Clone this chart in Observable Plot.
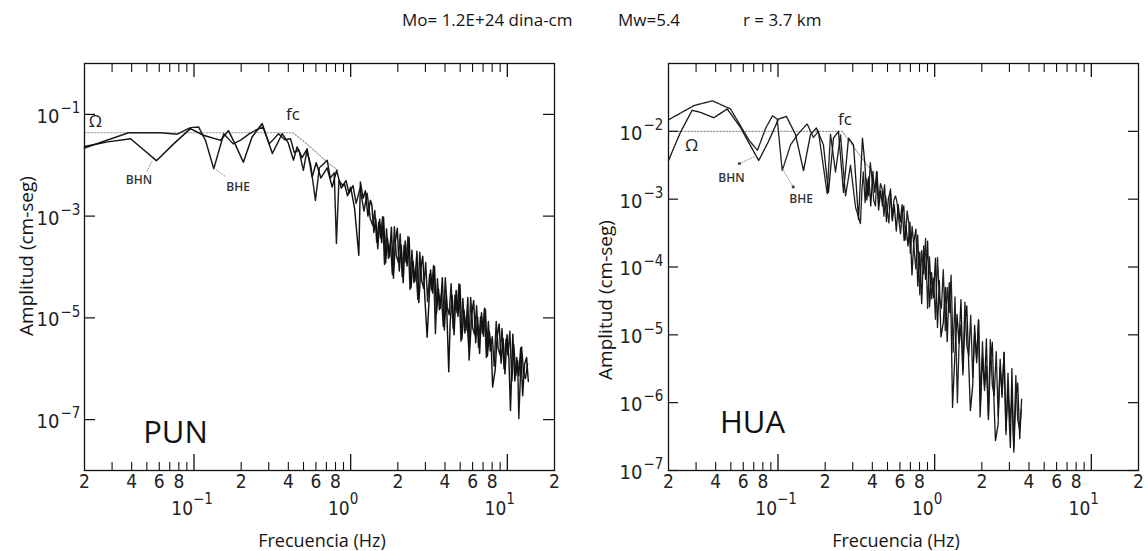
<!DOCTYPE html>
<html><head><meta charset="utf-8">
<script src="https://cdn.jsdelivr.net/npm/d3@7"></script>
<script src="https://cdn.jsdelivr.net/npm/@observablehq/plot@0.6"></script>
<style>
html,body{margin:0;padding:0;background:#fff;}
#wrap{position:relative;width:1148px;height:551px;overflow:hidden;font-family:"Open Sans",sans-serif;color:#151515;}
.lbl{position:absolute;white-space:nowrap;transform:translate(-50%,-50%);}
.rot{transform:translate(-50%,-50%) rotate(-90deg);}
.ttl{position:absolute;white-space:nowrap;transform:translateY(-50%);}
.panel{position:absolute;top:0;}
</style></head><body><div id="wrap"></div>
<script>
// ---------- DATA (pairs: log10 frequency [Hz], log10 amplitude [cm-s]) ----------
const punBHN = [
[-1.699,-1.63],[-1.55,-1.54],[-1.405,-1.48],[-1.32,-1.70],[-1.24,-1.91],[-1.13,-1.58],[-1.023,-1.28],[-0.94,-1.41],[-0.83,-1.51],[-0.78,-1.32],[-0.735,-1.60],[-0.685,-1.94],[-0.63,-1.45],[-0.565,-1.18],[-0.50,-1.77],[-0.437,-1.38],[-0.40,-1.55],[-0.365,-1.90],[-0.342,-1.64],[-0.31,-1.85],[-0.278,-1.68],[-0.246,-2.23],[-0.22,-1.95],[-0.19,-2.25],[-0.15,-2.05],[-0.118,-2.43],[-0.09,-2.10],[-0.06,-2.45],[-0.04,-2.36],[-0.02,-2.60],[0.0,-2.43],[0.025,-2.85],[0.052,-3.77],[0.062,-2.33],[0.08,-2.65],[0.094,-2.50],[0.11,-3.0],[0.126,-2.69],
[0.135,-2.77],[0.148,-3.32],[0.160,-3.05],[0.173,-3.64],[0.185,-3.06],[0.198,-3.52],[0.210,-3.02],[0.223,-3.92],[0.235,-3.44],[0.248,-3.80],[0.260,-3.22],[0.273,-4.22],[0.285,-3.51],[0.298,-3.24],[0.310,-4.08],[0.323,-3.57],[0.335,-4.31],[0.348,-3.49],[0.360,-3.98],[0.373,-3.42],[0.385,-4.41],[0.398,-3.89],[0.410,-4.28],[0.423,-3.69],[0.435,-4.70],[0.448,-4.02],[0.460,-3.79],[0.473,-4.58],[0.488,-5.38],[0.498,-4.79],[0.510,-4.06],[0.523,-4.51],[0.535,-3.99],[0.548,-4.91],[0.560,-4.43],[0.573,-4.81],[0.585,-4.21],[0.598,-5.24],[0.610,-4.52],[0.626,-6.06],[0.635,-5.10],[0.648,-4.56],[0.660,-5.33],[0.673,-4.46],[0.685,-4.97],[0.698,-4.35],[0.710,-5.42],[0.723,-4.85],[0.735,-5.25],[0.748,-4.60],[0.756,-5.83],[0.773,-4.93],[0.785,-4.66],[0.798,-5.49],[0.810,-4.98],[0.823,-5.70],[0.835,-4.90],[0.848,-5.36],[0.860,-4.83],[0.873,-5.75],[0.885,-5.27],[0.898,-5.62],[0.906,-6.36],[0.923,-6.01],[0.935,-5.36],[0.948,-5.12],[0.960,-5.89],[0.973,-5.41],[0.985,-6.10],[0.998,-5.33],[1.010,-5.80],[1.020,-6.82],[1.035,-5.32],[1.048,-6.24],[1.060,-5.78],[1.073,-6.14],[1.085,-5.59],[1.098,-6.53],[1.110,-5.91],[1.123,-5.78],[1.134,-6.25]
];
const punBHE = [
[-1.699,-1.66],[-1.418,-1.36],[-1.214,-1.36],[-1.107,-1.39],[-1.023,-1.26],[-0.97,-1.25],[-0.927,-1.51],[-0.874,-2.07],[-0.81,-1.38],[-0.75,-1.58],[-0.70,-1.50],[-0.645,-1.38],[-0.60,-1.30],[-0.56,-1.25],[-0.52,-1.58],[-0.46,-1.38],[-0.42,-1.50],[-0.384,-1.48],[-0.36,-1.75],[-0.33,-1.70],[-0.302,-2.10],[-0.28,-1.72],[-0.255,-2.00],[-0.225,-2.69],[-0.20,-2.05],[-0.175,-1.98],[-0.15,-1.90],[-0.13,-2.25],[-0.105,-2.15],[-0.091,-3.54],[-0.075,-2.30],[-0.05,-2.40],[-0.03,-2.30],[-0.01,-2.55],[0.015,-2.40],[0.035,-2.75],[0.06,-2.45],[0.085,-2.90],[0.105,-2.55],[0.125,-3.05],
[0.141,-3.18],[0.154,-2.89],[0.166,-3.51],[0.179,-3.12],[0.191,-3.43],[0.204,-3.01],[0.216,-3.95],[0.229,-3.25],[0.241,-3.83],[0.254,-3.53],[0.266,-4.15],[0.279,-3.21],[0.291,-3.77],[0.304,-3.91],[0.316,-3.35],[0.329,-4.19],[0.341,-3.57],[0.354,-3.91],[0.366,-3.40],[0.379,-4.44],[0.391,-3.67],[0.404,-4.31],[0.416,-4.01],[0.429,-4.64],[0.441,-3.71],[0.454,-4.28],[0.466,-4.42],[0.479,-3.91],[0.491,-4.68],[0.504,-4.14],[0.516,-4.45],[0.529,-3.97],[0.541,-5.31],[0.554,-4.23],[0.566,-4.84],[0.579,-4.54],[0.591,-5.17],[0.604,-4.21],[0.616,-4.79],[0.629,-4.94],[0.641,-4.33],[0.654,-5.21],[0.666,-4.55],[0.679,-4.90],[0.691,-4.33],[0.704,-5.46],[0.716,-4.62],[0.729,-5.30],[0.741,-4.95],[0.754,-5.61],[0.766,-4.60],[0.779,-5.20],[0.791,-5.33],[0.804,-4.76],[0.816,-5.58],[0.829,-4.98],[0.841,-5.30],[0.854,-4.81],[0.866,-5.78],[0.879,-5.07],[0.891,-5.65],[0.904,-5.37],[0.916,-5.95],[0.929,-5.07],[0.941,-5.60],[0.954,-5.73],[0.966,-5.21],[0.979,-6.00],[0.991,-5.42],[1.004,-5.73],[1.016,-5.26],[1.029,-6.24],[1.041,-5.53],[1.054,-6.13],[1.066,-5.84],[1.073,-6.98],[1.091,-5.57],[1.104,-6.09],[1.116,-6.19],[1.129,-5.90]
];
const punModel = [[-1.699,-1.36],[-0.37,-1.36],[-0.28,-1.58],[-0.142,-1.96],[-0.08,-2.10]];

const huaBHN = [
[-1.699,-2.43],[-1.622,-2.01],[-1.548,-1.69],[-1.495,-1.72],[-1.410,-1.80],[-1.324,-1.67],[-1.240,-1.94],[-1.176,-2.21],[-1.123,-2.43],[-1.061,-2.15],[-0.997,-1.82],[-0.946,-1.78],[-0.888,-2.05],[-0.837,-2.58],[-0.793,-2.05],[-0.755,-1.95],[-0.710,-2.20],[-0.678,-2.90],[-0.646,-2.10],[-0.614,-2.00],[-0.582,-2.90],[-0.550,-2.10],[-0.518,-2.20],[-0.486,-3.30],[-0.461,-2.10],
[-0.445,-2.49],[-0.433,-3.01],[-0.420,-2.67],[-0.408,-3.10],[-0.395,-2.60],[-0.383,-2.90],[-0.370,-2.59],[-0.358,-3.16],[-0.345,-2.88],[-0.333,-3.10],[-0.320,-2.79],[-0.308,-3.33],[-0.295,-2.99],[-0.283,-2.88],[-0.270,-3.32],[-0.258,-3.08],[-0.245,-3.47],[-0.233,-3.08],[-0.220,-3.34],[-0.208,-3.08],[-0.195,-3.61],[-0.183,-3.40],[-0.170,-3.69],[-0.158,-3.34],[-0.145,-4.12],[-0.133,-3.64],[-0.120,-3.44],[-0.108,-4.28],[-0.095,-3.78],[-0.083,-4.54],[-0.070,-3.69],[-0.058,-4.18],[-0.045,-3.62],[-0.033,-4.59],[-0.020,-4.08],[-0.008,-4.45],[0.005,-3.87],[0.018,-4.89],[0.030,-4.20],[0.040,-5.03],[0.055,-4.82],[0.068,-4.30],[0.080,-5.10],[0.093,-4.23],[0.105,-4.78],[0.114,-6.07],[0.130,-5.25],[0.143,-4.70],[0.155,-5.12],[0.168,-4.48],[0.180,-5.59],[0.193,-4.84],[0.205,-4.57],[0.218,-5.47],[0.228,-6.12],[0.243,-5.74],[0.255,-4.86],[0.268,-5.41],[0.280,-4.78],[0.290,-6.21],[0.305,-5.33],[0.318,-5.76],[0.330,-5.06],[0.343,-6.25],[0.355,-5.42],[0.368,-5.11],[0.380,-6.07],[0.388,-6.56],[0.405,-6.32],[0.418,-5.36],[0.430,-5.92],[0.443,-5.26],[0.455,-6.41],[0.468,-5.79],[0.483,-6.66],[0.493,-5.50],[0.505,-6.73],[0.518,-5.93],[0.530,-5.71],[0.543,-6.53],[0.555,-5.95]
];
const huaBHE = [
[-1.699,-1.83],[-1.536,-1.62],[-1.419,-1.55],[-1.303,-1.67],[-1.185,-2.13],[-1.131,-2.28],[-1.080,-1.96],[-1.035,-1.77],[-1.005,-1.82],[-0.973,-2.58],[-0.920,-2.20],[-0.876,-2.05],[-0.814,-1.89],[-0.774,-2.09],[-0.742,-2.00],[-0.686,-2.92],[-0.665,-2.04],[-0.633,-2.60],[-0.601,-2.05],[-0.569,-2.95],[-0.537,-2.50],[-0.505,-3.12],
[-0.474,-3.36],[-0.464,-2.85],[-0.455,-2.60],[-0.444,-3.05],[-0.433,-2.70],[-0.422,-2.95],[-0.411,-2.46],[-0.400,-2.70],[-0.389,-3.02],[-0.378,-3.10],[-0.368,-2.60],[-0.357,-3.05],[-0.346,-2.77],[-0.335,-2.85],[-0.324,-3.25],[-0.313,-2.95],[-0.303,-3.17],[-0.292,-3.35],[-0.282,-2.85],[-0.271,-3.30],[-0.261,-3.02],[-0.250,-2.95],[-0.240,-3.05],[-0.229,-3.30],[-0.218,-3.51],[-0.207,-3.20],[-0.197,-3.10],[-0.186,-3.60],[-0.176,-3.17],[-0.165,-3.35],[-0.155,-3.80],[-0.144,-3.40],[-0.134,-3.66],
[-0.120,-4.03],[-0.108,-3.53],[-0.095,-4.41],[-0.083,-3.76],[-0.070,-4.10],[-0.058,-3.58],[-0.045,-4.61],[-0.033,-3.85],[-0.020,-4.47],[-0.008,-4.16],[0.005,-4.77],[0.018,-3.86],[0.030,-4.45],[0.043,-4.61],[0.055,-4.04],[0.068,-4.94],[0.080,-4.30],[0.093,-4.67],[0.105,-4.12],[0.118,-5.26],[0.130,-4.44],[0.145,-6.00],[0.155,-5.18],[0.168,-4.85],[0.180,-5.53],[0.193,-4.52],[0.205,-5.15],[0.218,-5.31],[0.230,-4.71],[0.243,-5.63],[0.255,-4.97],[0.268,-5.35],[0.280,-4.78],[0.293,-5.97],[0.305,-5.10],[0.318,-5.82],[0.330,-5.46],[0.343,-6.19],[0.355,-5.07],[0.368,-5.74],[0.380,-5.90],[0.393,-5.25],[0.405,-6.20],[0.418,-5.48],[0.430,-5.87],[0.443,-5.26],[0.455,-6.47],[0.468,-5.56],[0.480,-6.30],[0.493,-5.92],[0.505,-6.67],[0.518,-5.60],[0.530,-6.25],[0.543,-6.40],[0.552,-6.10]
];
const huaModel = [[-1.699,-2.0],[-0.59,-2.0],[-0.431,-2.5],[-0.38,-2.62]];

// annotations: [text, log10 f, log10 A, size]
const punNotes = [["Ω",-1.629,-1.14,17],["fc",-0.368,-1.00,16],["BHN",-1.351,-2.30,12],["BHE",-0.719,-2.44,12]];
const huaNotes = [["Ω",-1.552,-2.21,17],["fc",-0.573,-1.826,16],["BHN",-1.297,-2.695,12],["BHE",-0.853,-3.005,12]];
const punStation = [["PUN",-1.118,-7.26]];
const huaStation = [["HUA",-1.163,-6.297]];
const punLeaders = [[-1.30,-2.12,-1.265,-1.90],[-0.80,-2.22,-0.862,-2.08]];
const huaLeaders = [[-1.246,-2.474,-1.131,-2.356],[-0.903,-2.82,-0.973,-2.55]];
const huaLeaderDots = [[-1.246,-2.474],[-0.903,-2.82]];

// axes
const xDomain = [0.02, 20];
const xMinorTicks = [0.03,0.04,0.05,0.06,0.07,0.08,0.09,0.2,0.3,0.4,0.5,0.6,0.7,0.8,0.9,2,3,4,5,6,7,8,9];
const xMajorTicks = [0.1,1,10];
const xDigitValues = [0.02,0.04,0.06,0.08,0.2,0.4,0.6,0.8,2,4,6,8,20];
const xDigitText = ["2","4","6","8","2","4","6","8","2","4","6","8","2"];
const xDecadeValues = [0.1,1,10];
const xDecadeExp = ["−1","0","1"];
const punYDomain = [1e-8, 1];
const punYTicks = [1e-1,1e-3,1e-5,1e-7];
const punYExp = ["−1","−3","−5","−7"];
const huaYDomain = [1e-7, 1e-1];
const huaYTicks = [1e-2,1e-3,1e-4,1e-5,1e-6,1e-7];
const huaYExp = ["−2","−3","−4","−5","−6","−7"];

const title = ["Mo= 1.2E+24 dina-cm","Mw=5.4","r = 3.7 km"];
const yLabel = "Amplitud (cm-seg)";
const xLabel = "Frecuencia (Hz)";

// ---------- DRAW ----------
const P = v => Math.pow(10, v);
const NARROW = "'Liberation Sans Narrow','DejaVu Sans Condensed',sans-serif";
const SANS = "'Open Sans','Noto Sans',sans-serif";
const H = 551, MT = 63, MB = 81, FH = H - MT - MB, FW = 470;

function panel(o){
  const marks = [
    Plot.line(o.model, {x: d=>P(d[0]), y: d=>P(d[1]), stroke:"#9a9a9a", strokeWidth:1.1, strokeDasharray:"1.6,1.6"}),
    Plot.line(o.bhe, {x: d=>P(d[0]), y: d=>P(d[1]), stroke: o.c2, strokeWidth:o.sw, strokeDasharray:o.dash}),
    Plot.line(o.bhn, {x: d=>P(d[0]), y: d=>P(d[1]), stroke: o.c1, strokeWidth:o.sw, strokeDasharray:o.dash}),
    Plot.link(o.leaders, {x1:d=>P(d[0]), y1:d=>P(d[1]), x2:d=>P(d[2]), y2:d=>P(d[3]), stroke:"#777", strokeWidth:0.9, strokeDasharray:"1.5,1"}),
    Plot.dot(o.dots, {x:d=>P(d[0]), y:d=>P(d[1]), r:1.6, fill:"#444", stroke:null}),
    Plot.frame({stroke:"#111", strokeWidth:1.3}),
    Plot.tickX(xMinorTicks, {x:d=>d, insetTop:FH-8, stroke:"#111", strokeWidth:1.1}),
    Plot.tickX(xMajorTicks, {x:d=>d, insetTop:FH-16, stroke:"#111", strokeWidth:1.3}),
    Plot.tickX(xMinorTicks, {x:d=>d, insetBottom:FH-9, stroke:"#111", strokeWidth:1.1}),
    Plot.tickX(xMajorTicks, {x:d=>d, insetBottom:FH-14, stroke:"#111", strokeWidth:1.3}),
    Plot.tickY(o.yTicks, {y:d=>d, insetRight:FW-o.ytl, stroke:"#111", strokeWidth:1.2}),
    Plot.tickY(o.yTicks, {y:d=>d, insetLeft:FW-o.ytl, stroke:"#111", strokeWidth:1.2}),
    Plot.text(xDigitValues, {x:d=>d, text:(d,i)=>xDigitText[i], frameAnchor:"bottom", dy:17, fontSize:19, fontFamily:NARROW, fill:"#222"}),
    Plot.text(xDecadeValues, {x:d=>d, text:()=>"10", frameAnchor:"bottom", dy:44, dx:-1, textAnchor:"end", fontSize:19, fontFamily:NARROW, fill:"#222"}),
    Plot.text(xDecadeValues, {x:d=>d, text:(d,i)=>xDecadeExp[i], frameAnchor:"bottom", dy:33, dx:-1, textAnchor:"start", fontSize:15, fontFamily:NARROW, fill:"#222"}),
    Plot.text(o.yTicks, {y:d=>d, text:()=>"10", frameAnchor:"left", dx:o.ylx, dy:2, textAnchor:"end", fontSize:20, fontFamily:NARROW, fill:"#222"}),
    Plot.text(o.yTicks, {y:d=>d, text:(d,i)=>o.yExp[i], frameAnchor:"left", dx:o.ylx+1, dy:-6, textAnchor:"start", fontSize:15, fontFamily:NARROW, fill:"#222"}),
    Plot.text(o.notes.filter(d=>d[3]>14), {x:d=>P(d[1]), y:d=>P(d[2]), text:d=>d[0], fontSize:17, fontFamily:SANS, fill:"#222"}),
    Plot.text(o.notes.filter(d=>d[3]<=14), {x:d=>P(d[1]), y:d=>P(d[2]), text:d=>d[0], fontSize:12, fontFamily:SANS, fontWeight:600, fill:"#333"}),
    Plot.text(o.station, {x:d=>P(d[1]), y:d=>P(d[2]), text:d=>d[0], fontSize:31, fontFamily:SANS, fill:"#111"})
  ];
  return Plot.plot({
    width:o.width, height:H, marginTop:MT, marginBottom:MB, marginLeft:o.ml, marginRight:o.mr,
    x:{type:"log", domain:xDomain, axis:null},
    y:{type:"log", domain:o.yDomain, axis:null},
    style:{background:"transparent", overflow:"visible"},
    marks
  });
}

const wrap = document.getElementById("wrap");
function addPanel(svg, left){
  const d = document.createElement("div");
  d.className = "panel"; d.style.left = left + "px";
  d.appendChild(svg); wrap.appendChild(d);
}
addPanel(panel({width:580, ml:84, mr:26, yDomain:punYDomain, yTicks:punYTicks, yExp:punYExp, ytl:11, ylx:-25,
  bhn:punBHN, bhe:punBHE, model:punModel, notes:punNotes, station:punStation, leaders:punLeaders, dots:[],
  c1:"#111", c2:"#1c1c1c", sw:1.45, dash:null}), 0);
addPanel(panel({width:568, ml:88, mr:10, yDomain:huaYDomain, yTicks:huaYTicks, yExp:huaYExp, ytl:10, ylx:-26,
  bhn:huaBHN, bhe:huaBHE, model:huaModel, notes:huaNotes, station:huaStation, leaders:huaLeaders, dots:huaLeaderDots,
  c1:"#161616", c2:"#222", sw:1.35, dash:"2,0.7"}), 580);

function addLabel(text, x, y, cls, size){
  const d = document.createElement("div");
  d.className = cls; d.textContent = text;
  d.style.left = x + "px"; d.style.top = y + "px"; d.style.fontSize = size + "px";
  wrap.appendChild(d);
}
addLabel(title[0], 402, 19, "ttl", 17);
addLabel(title[1], 618, 19, "ttl", 17);
addLabel(title[2], 743, 19, "ttl", 17);
addLabel(yLabel, 26, 256, "lbl rot", 19);
addLabel(yLabel, 605, 300, "lbl rot", 19);
addLabel(xLabel, 322, 540, "lbl", 18);
addLabel(xLabel, 896, 540, "lbl", 18);
</script></body></html>
